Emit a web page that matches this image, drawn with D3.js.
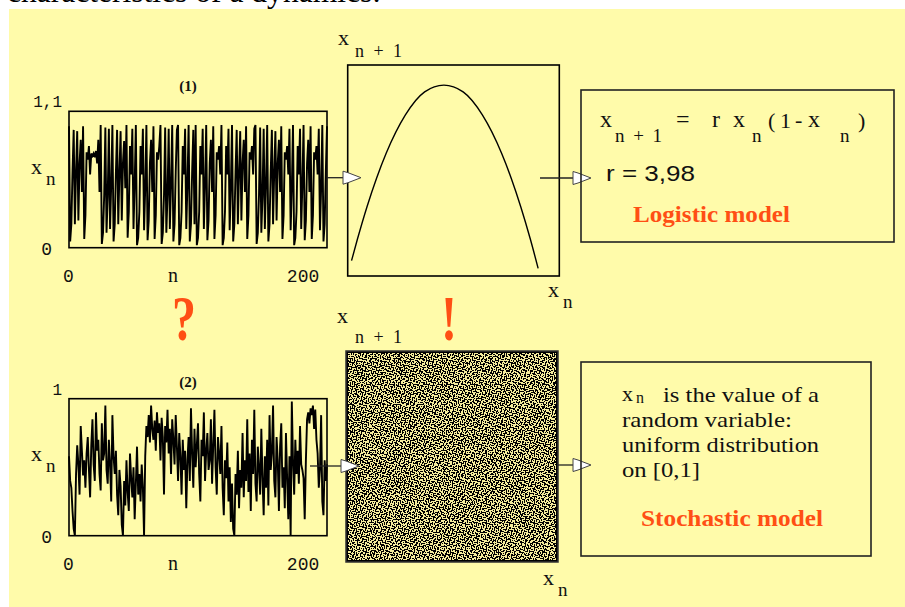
<!DOCTYPE html>
<html>
<head>
<meta charset="utf-8">
<script src="https://cdn.jsdelivr.net/npm/d3@7"></script>
<style>
body { margin: 0; background: #fff; }
svg { display: block; }
</style>
</head>
<body>
<div class="canvas"></div>
<script>
// (1) logistic series x_n, n = 0..220
const logisticSeries = [
  0.98,0.05,0.19,0.61,0.95,0.19,0.61,0.94,0.22,0.68,
  0.87,0.45,0.98,0.07,0.26,0.77,0.71,0.82,0.59,0.76,
  0.74,0.76,0.73,0.78,0.68,0.87,0.45,0.99,0.03,0.12,
  0.42,0.97,0.12,0.41,0.96,0.15,0.51,0.99,0.05,0.19,
  0.61,0.95,0.19,0.61,0.94,0.22,0.68,0.86,0.48,0.99,
  0.08,0.29,0.82,0.59,0.96,0.15,0.51,0.99,0.02,0.08,
  0.29,0.82,0.59,0.96,0.14,0.48,0.99,0.06,0.22,0.68,
  0.87,0.45,0.98,0.07,0.26,0.77,0.71,0.82,0.99,0.03,
  0.12,0.42,0.97,0.12,0.42,0.96,0.15,0.51,0.99,0.05,
  0.19,0.61,0.95,0.99,0.02,0.08,0.29,0.82,0.59,0.96,
  0.15,0.51,0.99,0.05,0.19,0.61,0.95,0.19,0.99,0.02,
  0.08,0.29,0.82,0.59,0.96,0.15,0.51,0.99,0.06,0.22,
  0.68,0.87,0.45,0.98,0.07,0.26,0.77,0.71,0.82,0.59,
  0.99,0.02,0.08,0.29,0.82,0.59,0.96,0.14,0.48,0.99,
  0.05,0.19,0.61,0.95,0.19,0.61,0.94,0.22,0.68,0.87,
  0.45,0.98,0.07,0.26,0.77,0.71,0.82,0.59,0.96,0.99,
  0.03,0.12,0.42,0.97,0.12,0.41,0.96,0.15,0.51,0.99,
  0.05,0.19,0.61,0.95,0.19,0.61,0.94,0.22,0.68,0.87,
  0.45,0.98,0.07,0.26,0.77,0.71,0.82,0.59,0.96,0.14,
  0.48,0.99,0.02,0.08,0.29,0.82,0.59,0.96,0.15,0.51,
  0.99,0.06,0.22,0.68,0.87,0.45,0.98,0.07,0.26,0.77,
  0.71,0.82,0.59,0.96,0.14,0.48,0.99,0.05,0.19,0.61,
  0.98
];

// (2) random series x_n, n = 0..220
const randomSeries = [
  0.58,0.40,0.35,0.18,0.05,0.00,0.45,0.66,0.52,0.30,
  0.80,0.62,0.44,0.55,0.35,0.60,0.72,0.48,0.28,0.66,
  0.85,0.52,0.40,0.90,0.62,0.70,0.45,0.33,0.82,0.55,
  0.60,0.95,0.48,0.38,0.70,0.52,0.25,0.88,0.58,0.45,
  0.62,0.30,0.15,0.48,0.36,0.08,0.00,0.40,0.22,0.55,
  0.32,0.18,0.60,0.42,0.28,0.50,0.12,0.38,0.65,0.30,
  0.45,0.25,0.52,0.35,0.00,0.58,0.80,0.72,0.88,0.68,
  0.95,0.78,0.70,0.84,0.62,0.90,0.75,0.82,0.55,0.86,
  0.72,0.30,0.80,0.68,0.92,0.60,0.78,0.45,0.85,0.70,
  0.52,0.88,0.65,0.40,0.75,0.58,0.30,0.70,0.48,0.62,
  0.20,0.55,0.72,0.40,0.93,0.60,0.35,0.78,0.50,0.66,
  0.82,0.45,0.25,0.70,0.58,0.90,0.40,0.62,0.75,0.48,
  0.55,0.85,0.38,0.66,0.92,0.50,0.30,0.72,0.60,0.45,
  0.80,0.35,0.15,0.55,0.42,0.68,0.25,0.50,0.10,0.38,
  0.05,0.00,0.45,0.30,0.62,0.20,0.48,0.35,0.75,0.28,
  0.55,0.40,0.85,0.32,0.60,0.18,0.70,0.45,0.92,0.38,
  0.25,0.65,0.50,0.30,0.78,0.42,0.15,0.58,0.35,0.70,
  0.22,0.88,0.48,0.60,0.95,0.40,0.28,0.72,0.55,0.18,
  0.65,0.82,0.35,0.50,0.20,0.75,0.42,0.12,0.58,0.00,
  0.98,0.55,0.30,0.70,0.45,0.62,0.38,0.80,0.52,0.48,
  0.42,0.12,0.55,0.85,0.90,0.82,0.93,0.88,0.95,0.78,
  0.92,0.70,0.60,0.35,0.48,0.88,0.25,0.15,0.55,0.40,
  0.52
];

// return map of the logistic model: x_n -> x_n+1
const mapXn = [0.02, 0.05, 0.1, 0.15, 0.2, 0.3, 0.4, 0.5, 0.6, 0.7, 0.8, 0.85, 0.9, 0.95, 0.99];
const mapXn1 = [0.08, 0.19, 0.36, 0.51, 0.64, 0.84, 0.96, 0.995, 0.96, 0.84, 0.64, 0.51, 0.36, 0.19, 0.04];

const nTicks = [0, 200];

// speckle tile for the (x_n, x_n+1) cloud of the random model, 1 = light dot
const noiseTile = [
  "011000111000010011000110",
  "000010000011010000011000",
  "110011000100010110000011",
  "000000110100000010011000",
  "011100010000111000010011",
  "000001000110000011010000",
  "110001011000100000011100",
  "010000000011100110000001",
  "000111010000000100111001",
  "100000010011001000000100",
  "001100110000011001100000",
  "000100000111000000001110",
  "011000100000010011100000",
  "000011100011000000100011",
  "110000000100001110000010",
  "001001110000100000011000",
  "000001000111000110000011",
  "011100000000010000110000",
  "000010011001110000000110",
  "100010000000000111000100",
  "001000111001100000011000",
  "011100000000001100000011",
  "000000110011100001110000",
  "100110000000000100000110"
];

const w = 905;
const h = 607;
const serif = "'Liberation Serif', 'Times New Roman', serif";
const mono = "'Liberation Mono', 'Courier New', monospace";
const sans = "'Liberation Sans', Arial, sans-serif";
const red = "#ff4f14";

const svg = d3.select(".canvas").append("svg").attr("width", w).attr("height", h);

svg.append("rect").attr("x", 9).attr("y", 9).attr("width", w - 9).attr("height", h - 9).attr("fill", "#fffbaa");

svg.append("text").attr("x", 7).attr("y", 2)
  .attr("font-family", serif).attr("font-size", 32)
  .attr("textLength", 374).attr("lengthAdjust", "spacingAndGlyphs")
  .text("characteristics of a dynamics:");

const txt = (x, y, s, size, font, anchor) =>
  svg.append("text").attr("x", x).attr("y", y)
    .attr("font-family", font || serif).attr("font-size", size)
    .attr("text-anchor", anchor || "start").attr("fill", "#111").text(s);

// x with subscript
const xSub = (x, y, sub, size) => {
  txt(x, y, "x", size || 22);
  txt(x + 15, y + 11, sub, (size || 22) - 3);
};

// ---- time series ----
const nScale = d3.scaleLinear([0, 220], [69, 327]);

function drawSeries(data, yScale, topLabel, title, titleY) {
  const [y0, y1] = yScale.range();
  svg.append("path").datum(data)
    .attr("d", d3.line().x((d, i) => nScale(i)).y(d => yScale(d)))
    .attr("fill", "none").attr("stroke", "#000").attr("stroke-width", 1.9);
  svg.append("rect")
    .attr("x", nScale(0)).attr("y", y1)
    .attr("width", nScale(220) - nScale(0)).attr("height", y0 - y1)
    .attr("fill", "none").attr("stroke", "#000").attr("stroke-width", 1.6);

  const ax = svg.append("g").attr("transform", `translate(0, ${y0 + 22})`)
    .call(d3.axisBottom(nScale).tickValues(nTicks).tickSize(0).tickPadding(0));
  ax.select(".domain").remove();
  ax.selectAll("text").attr("font-family", mono).attr("font-size", 18).attr("fill", "#111").attr("dx", -1);
  txt(173, y0 + 34, "n", 20).attr("text-anchor", "middle");

  txt(62, y1 - 4, topLabel, 16, mono, "end");
  txt(52, y0 + 7, "0", 18, mono, "end");
  xSub(31, (y0 + y1) / 2 - 6, "n", 22);
  svg.append("text").attr("x", 188).attr("y", titleY)
    .attr("font-family", serif).attr("font-weight", "bold").attr("font-size", 15)
    .attr("text-anchor", "middle").attr("fill", "#111").text(title);
}

drawSeries(logisticSeries, d3.scaleLinear([0, 1.1], [247.7, 111.3]), "1,1", "(1)", 91);
drawSeries(randomSeries, d3.scaleLinear([0, 1], [535.7, 398.7]), "1", "(2)", 387);

// ---- arrows ----
function arrow(x1, x2, y) {
  svg.append("line").attr("x1", x1).attr("x2", x2).attr("y1", y).attr("y2", y)
    .attr("stroke", "#222").attr("stroke-width", 1.3);
  svg.append("path")
    .attr("d", `M${x2},${y - 6.5}L${x2 + 5},${y - 5}L${x2 + 18},${y}L${x2 + 5},${y + 5}L${x2},${y + 6.5}Z`)
    .attr("fill", "#fff").attr("stroke", "#444").attr("stroke-width", 1);
}

// ---- logistic return map ----
const mx1 = d3.scaleLinear([0, 1.1], [347.7, 559.3]);
const my1 = d3.scaleLinear([0, 1.1], [276, 65]);
svg.append("path").datum(d3.zip(mapXn, mapXn1))
  .attr("d", d3.line().x(d => mx1(d[0])).y(d => my1(d[1])).curve(d3.curveMonotoneX))
  .attr("fill", "none").attr("stroke", "#000").attr("stroke-width", 1.4);
svg.append("rect").attr("x", mx1(0)).attr("y", my1(1.1))
  .attr("width", mx1(1.1) - mx1(0)).attr("height", my1(0) - my1(1.1))
  .attr("fill", "none").attr("stroke", "#000").attr("stroke-width", 1.6);
txt(338, 45, "x", 22);
txt(355, 57, "n + 1", 18).attr("textLength", 47);
xSub(548, 297, "n", 22);

// ---- random return map ----
const mx2 = d3.scaleLinear([0, 1], [346, 558]);
const my2 = d3.scaleLinear([0, 1], [562, 351]);
const defs = svg.append("defs");
// two layers of the tile with different periods so the repeat does not show
[[24, false], [23, true]].forEach(([size, flip], k) => {
  const pat = defs.append("pattern").attr("id", "noise" + k)
    .attr("patternUnits", "userSpaceOnUse")
    .attr("x", mx2(0) + 2).attr("y", my2(1) + 2)
    .attr("width", size).attr("height", size);
  noiseTile.forEach((row, j) => {
    row.split("").forEach((c, i) => {
      const [px, py] = flip ? [23 - j, i] : [i, j];
      if (c === "1" && px < size && py < size)
        pat.append("rect").attr("x", px).attr("y", py).attr("width", 1).attr("height", 1)
          .attr("fill", "#f4eb9c").attr("shape-rendering", "crispEdges");
    });
  });
});
svg.append("rect").attr("x", mx2(0)).attr("y", my2(1))
  .attr("width", mx2(1) - mx2(0)).attr("height", my2(0) - my2(1))
  .attr("fill", "#000");
[0, 1].forEach(k =>
  svg.append("rect").attr("x", mx2(0) + 2).attr("y", my2(1) + 2)
    .attr("width", mx2(1) - mx2(0) - 4).attr("height", my2(0) - my2(1) - 4)
    .attr("fill", `url(#noise${k})`));
svg.append("rect").attr("x", mx2(0)).attr("y", my2(1))
  .attr("width", mx2(1) - mx2(0)).attr("height", my2(0) - my2(1))
  .attr("fill", "none").attr("stroke", "#333").attr("stroke-width", 1.5);
txt(337, 323, "x", 22);
txt(355, 343, "n + 1", 18).attr("textLength", 47);
xSub(543, 585, "n", 22);

arrow(327, 343, 177.7);
arrow(540, 573, 178);
arrow(310, 341, 466);
arrow(558, 573, 465);

// ---- model boxes ----
svg.append("rect").attr("x", 581).attr("y", 90).attr("width", 313).attr("height", 152)
  .attr("fill", "none").attr("stroke", "#222").attr("stroke-width", 1.6);
svg.append("rect").attr("x", 581).attr("y", 362).attr("width", 290).attr("height", 194)
  .attr("fill", "none").attr("stroke", "#222").attr("stroke-width", 1.6);

// formula
txt(600, 127, "x", 24);
txt(615, 142, "n + 1", 19).attr("textLength", 47);
txt(676, 127, "=", 24);
txt(712, 127, "r", 24);
txt(733, 127, "x", 24);
txt(752, 142, "n", 19);
txt(768, 128, "(", 22);
txt(780, 128, "1", 22);
txt(795, 127, "-", 22);
txt(808, 127, "x", 24);
txt(840, 142, "n", 19);
txt(858, 128, ")", 22);
txt(606, 181, "r = 3,98", 22, sans).attr("textLength", 89).attr("lengthAdjust", "spacingAndGlyphs");
txt(633, 222, "Logistic model", 23).attr("fill", red).attr("font-weight", "bold")
  .attr("textLength", 157).attr("lengthAdjust", "spacingAndGlyphs");

// random model description
txt(622, 401, "x", 22);
txt(636, 403, "n", 16);
const lines = [
  ["is the value of a", 663, 402, 156],
  ["random variable:", 622, 427, 170],
  ["uniform distribution", 622, 452, 197],
  ["on [0,1]", 622, 477, 78]
];
lines.forEach(([s, x, y, len]) =>
  txt(x, y, s, 22).attr("textLength", len).attr("lengthAdjust", "spacingAndGlyphs"));
txt(641, 526, "Stochastic model", 23).attr("fill", red).attr("font-weight", "bold")
  .attr("textLength", 182).attr("lengthAdjust", "spacingAndGlyphs");

// ? and !
[["?", 172], ["!", 441]].forEach(([s, x]) =>
  svg.append("text").attr("transform", `translate(${x}, 340) scale(1, 1.3)`)
    .attr("font-family", serif).attr("font-weight", "bold").attr("font-size", 48)
    .attr("fill", red).text(s));
</script>
</body>
</html>
